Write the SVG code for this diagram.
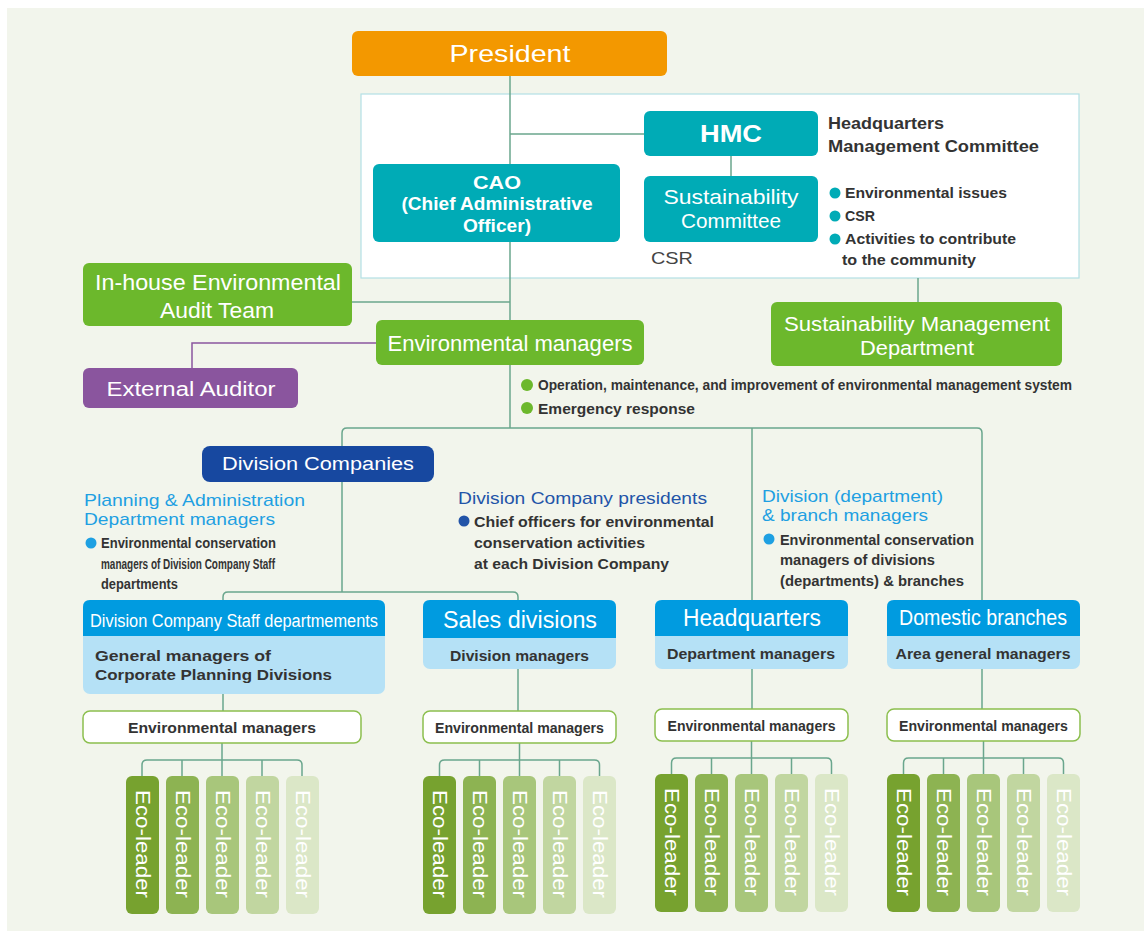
<svg xmlns="http://www.w3.org/2000/svg" width="1144" height="931" viewBox="0 0 1144 931">
<style>
text{font-family:"Liberation Sans Narrow","Liberation Sans",Arial,sans-serif}
.ln{stroke:#6aa68d;stroke-width:1.5;fill:none}
.pl{stroke:#8a559e;stroke-width:1.5;fill:none}
.wt{fill:#fff;text-anchor:middle}
.dk{fill:#333;font-weight:bold}
.dn{fill:#444}
.lb{fill:#1ea0e2}
.nb{fill:#2254a8}
.teal{fill:#00abb6}
.green{fill:#6cb82c}
.hdr{fill:#009be0}
.body{fill:#b5e1f6}
.env{fill:#fff;stroke:#8cbf4e;stroke-width:1.5}
.eco{fill:#fff;font-size:20px}
.e1{fill:#77a22f}.e2{fill:#8db352}.e3{fill:#a8c67b}.e4{fill:#c1d6a0}.e5{fill:#dbe7c7}
</style>
<rect x="0" y="0" width="1144" height="931" fill="#fff"/>
<rect x="7" y="8" width="1137" height="923" fill="#f2f5ec"/>
<rect x="361" y="94" width="718" height="184" fill="#fff" stroke="#b3e0e5" stroke-width="1.2"/>

<g id="connectors">
<path class="ln" d="M510,76 V428"/>
<path class="ln" d="M510,134 H644"/>
<path class="ln" d="M731,156 V176"/>
<path class="ln" d="M352,302 H510"/>
<path class="pl" d="M376,343 H192 V368"/>
<path class="ln" d="M918,278 V302"/>
<path class="ln" d="M342,592 V433 Q342,428 347,428 H977 Q982,428 982,433 V600"/>
<path class="ln" d="M752,428 V600"/>
<path class="ln" d="M223,600 V597 Q223,592 228,592 H513 Q518,592 518,597 V600"/>
<path class="ln" d="M223,694 V711 M518,669 V711 M752,669 V709 M982,669 V709"/>
<path class="ln" d="M222,743 V776 M142,776 V765 Q142,760 147,760 H297 Q302,760 302,765 V776 M182,760 V776 M262,760 V776"/>
<path class="ln" d="M519.5,743 V776 M439.5,776 V765 Q439.5,760 444.5,760 H594.5 Q599.5,760 599.5,765 V776 M479.5,760 V776 M559.5,760 V776"/>
<path class="ln" d="M751.5,741 V774 M671.5,774 V763 Q671.5,758 676.5,758 H826.5 Q831.5,758 831.5,763 V774 M711.5,758 V774 M791.5,758 V774"/>
<path class="ln" d="M983.5,741 V774 M903.5,774 V763 Q903.5,758 908.5,758 H1058.5 Q1063.5,758 1063.5,763 V774 M943.5,758 V774 M1023.5,758 V774"/>
</g>

<g id="president">
<rect x="352" y="31" width="315" height="45" rx="6" fill="#f39800"/>
<text class="wt" x="510" y="62" font-size="24" textLength="121" lengthAdjust="spacingAndGlyphs">President</text>
</g>

<g id="hmc">
<rect x="644" y="111" width="174" height="45" rx="6" class="teal"/>
<text class="wt" x="731" y="142" font-size="23" font-weight="bold" textLength="62" lengthAdjust="spacingAndGlyphs">HMC</text>
<text class="dk" x="828" y="129" font-size="16" font-weight="normal" textLength="116" lengthAdjust="spacingAndGlyphs">Headquarters</text>
<text class="dk" x="828" y="152" font-size="16" font-weight="normal" textLength="211" lengthAdjust="spacingAndGlyphs">Management Committee</text>
</g>

<g id="sustainability-committee">
<rect x="644" y="176" width="174" height="66" rx="6" class="teal"/>
<text class="wt" x="731" y="204" font-size="21" textLength="135" lengthAdjust="spacingAndGlyphs">Sustainability</text>
<text class="wt" x="731" y="228" font-size="21" textLength="100" lengthAdjust="spacingAndGlyphs">Committee</text>
<text class="dn" x="651" y="264" font-size="17" textLength="42" lengthAdjust="spacingAndGlyphs">CSR</text>
<circle cx="835" cy="193" r="5.5" class="teal"/>
<circle cx="835" cy="216" r="5.5" class="teal"/>
<circle cx="835" cy="239" r="5.5" class="teal"/>
<text class="dk" x="845" y="198" font-size="15" textLength="162" lengthAdjust="spacingAndGlyphs">Environmental issues</text>
<text class="dk" x="845" y="221" font-size="15" textLength="30" lengthAdjust="spacingAndGlyphs">CSR</text>
<text class="dk" x="845" y="244" font-size="15" textLength="171" lengthAdjust="spacingAndGlyphs">Activities to contribute</text>
<text class="dk" x="842" y="265" font-size="15" textLength="134" lengthAdjust="spacingAndGlyphs">to the community</text>
</g>

<g id="cao">
<rect x="373" y="164" width="247" height="78" rx="6" class="teal"/>
<text class="wt" x="497" y="189" font-size="19" font-weight="bold" textLength="48" lengthAdjust="spacingAndGlyphs">CAO</text>
<text class="wt" x="497" y="210" font-size="18" font-weight="bold" textLength="191" lengthAdjust="spacingAndGlyphs">(Chief Administrative</text>
<text class="wt" x="497" y="232" font-size="18" font-weight="bold" textLength="68" lengthAdjust="spacingAndGlyphs">Officer)</text>
</g>

<g id="audit-team">
<rect x="83" y="263" width="269" height="63" rx="6" class="green"/>
<text class="wt" x="218" y="290" font-size="22" textLength="246" lengthAdjust="spacingAndGlyphs">In-house Environmental</text>
<text class="wt" x="217" y="318" font-size="22" textLength="114" lengthAdjust="spacingAndGlyphs">Audit Team</text>
</g>

<g id="environmental-managers">
<rect x="376" y="320" width="268" height="45" rx="6" class="green"/>
<text class="wt" x="510" y="351" font-size="22" textLength="245" lengthAdjust="spacingAndGlyphs">Environmental managers</text>
<circle cx="527" cy="385" r="6" class="green"/>
<circle cx="527" cy="408" r="6" class="green"/>
<text class="dk" x="538" y="390" font-size="15" textLength="534" lengthAdjust="spacingAndGlyphs">Operation, maintenance, and improvement of environmental management system</text>
<text class="dk" x="538" y="414" font-size="15" textLength="157" lengthAdjust="spacingAndGlyphs">Emergency response</text>
</g>

<g id="external-auditor">
<rect x="83" y="368" width="215" height="40" rx="6" fill="#8a559e"/>
<text class="wt" x="191" y="396" font-size="20" textLength="169" lengthAdjust="spacingAndGlyphs">External Auditor</text>
</g>

<g id="sustainability-management">
<rect x="771" y="302" width="291" height="64" rx="6" class="green"/>
<text class="wt" x="917" y="331" font-size="20" textLength="266" lengthAdjust="spacingAndGlyphs">Sustainability Management</text>
<text class="wt" x="917" y="355" font-size="20" textLength="114" lengthAdjust="spacingAndGlyphs">Department</text>
</g>

<g id="division-companies">
<rect x="202" y="446" width="232" height="36" rx="8" fill="#1748a0"/>
<text class="wt" x="318" y="470" font-size="18" textLength="192" lengthAdjust="spacingAndGlyphs">Division Companies</text>
<text class="lb" x="84" y="506" font-size="17" textLength="221" lengthAdjust="spacingAndGlyphs">Planning &amp; Administration</text>
<text class="lb" x="84" y="525" font-size="17" textLength="191" lengthAdjust="spacingAndGlyphs">Department managers</text>
<circle cx="91" cy="543" r="5.5" class="lb"/>
<text class="dk" x="101" y="548" font-size="14" textLength="175" lengthAdjust="spacingAndGlyphs">Environmental conservation</text>
<text class="dk" x="101" y="569" font-size="14" textLength="174" lengthAdjust="spacingAndGlyphs">managers of Division Company Staff</text>
<text class="dk" x="101" y="589" font-size="14" textLength="77" lengthAdjust="spacingAndGlyphs">departments</text>
</g>

<g id="division-company-presidents">
<text class="nb" x="458" y="504" font-size="17" textLength="249" lengthAdjust="spacingAndGlyphs">Division Company presidents</text>
<circle cx="464" cy="521" r="5.5" class="nb"/>
<text class="dk" x="474" y="527" font-size="15" textLength="240" lengthAdjust="spacingAndGlyphs">Chief officers for environmental</text>
<text class="dk" x="474" y="548" font-size="15" textLength="171" lengthAdjust="spacingAndGlyphs">conservation activities</text>
<text class="dk" x="474" y="569" font-size="15" textLength="195" lengthAdjust="spacingAndGlyphs">at each Division Company</text>
</g>

<g id="division-branch-managers">
<text class="lb" x="762" y="502" font-size="17" textLength="181" lengthAdjust="spacingAndGlyphs">Division (department)</text>
<text class="lb" x="762" y="521" font-size="17" textLength="166" lengthAdjust="spacingAndGlyphs">&amp; branch managers</text>
<circle cx="769" cy="539" r="5.5" class="lb"/>
<text class="dk" x="780" y="545" font-size="15" textLength="194" lengthAdjust="spacingAndGlyphs">Environmental conservation</text>
<text class="dk" x="780" y="565" font-size="15" textLength="155" lengthAdjust="spacingAndGlyphs">managers of divisions</text>
<text class="dk" x="780" y="586" font-size="15" textLength="184" lengthAdjust="spacingAndGlyphs">(departments) &amp; branches</text>
</g>

<g id="staff-departments">
<rect x="83" y="600" width="302" height="94" rx="7" class="body"/>
<path class="hdr" d="M83,636 V607 Q83,600 90,600 H378 Q385,600 385,607 V636 Z"/>
<text class="wt" x="234" y="627" font-size="18" textLength="288" lengthAdjust="spacingAndGlyphs">Division Company Staff departmements</text>
<text class="dk" x="95" y="661" font-size="15" textLength="176" lengthAdjust="spacingAndGlyphs">General managers of</text>
<text class="dk" x="95" y="680" font-size="15" textLength="237" lengthAdjust="spacingAndGlyphs">Corporate Planning Divisions</text>
</g>

<g id="sales-divisions">
<rect x="423" y="600" width="193" height="69" rx="7" class="body"/>
<path class="hdr" d="M423,638 V607 Q423,600 430,600 H609 Q616,600 616,607 V638 Z"/>
<text class="wt" x="520" y="628" font-size="23" textLength="154" lengthAdjust="spacingAndGlyphs">Sales divisions</text>
<text class="dk" x="519.5" y="661" font-size="15" text-anchor="middle" textLength="139" lengthAdjust="spacingAndGlyphs">Division managers</text>
</g>

<g id="headquarters">
<rect x="655" y="600" width="193" height="69" rx="7" class="body"/>
<path class="hdr" d="M655,636 V607 Q655,600 662,600 H841 Q848,600 848,607 V636 Z"/>
<text class="wt" x="752" y="626" font-size="23" textLength="138" lengthAdjust="spacingAndGlyphs">Headquarters</text>
<text class="dk" x="751" y="659" font-size="15" text-anchor="middle" textLength="168" lengthAdjust="spacingAndGlyphs">Department managers</text>
</g>

<g id="domestic-branches">
<rect x="887" y="600" width="193" height="69" rx="7" class="body"/>
<path class="hdr" d="M887,636 V607 Q887,600 894,600 H1073 Q1080,600 1080,607 V636 Z"/>
<text class="wt" x="983" y="625" font-size="22" textLength="168" lengthAdjust="spacingAndGlyphs">Domestic branches</text>
<text class="dk" x="983" y="659" font-size="15" text-anchor="middle" textLength="175" lengthAdjust="spacingAndGlyphs">Area general managers</text>
</g>

<g id="env-managers-staff">
<rect x="83" y="711" width="278" height="32" rx="7" class="env"/>
<text class="dk" x="222" y="733" font-size="15" text-anchor="middle" textLength="188" lengthAdjust="spacingAndGlyphs">Environmental managers</text>
</g>
<g id="env-managers-sales">
<rect x="423" y="711" width="193" height="32" rx="7" class="env"/>
<text class="dk" x="519.5" y="733" font-size="15" text-anchor="middle" textLength="169" lengthAdjust="spacingAndGlyphs">Environmental managers</text>
</g>
<g id="env-managers-hq">
<rect x="655" y="709" width="193" height="32" rx="7" class="env"/>
<text class="dk" x="751.5" y="731" font-size="15" text-anchor="middle" textLength="168" lengthAdjust="spacingAndGlyphs">Environmental managers</text>
</g>
<g id="env-managers-domestic">
<rect x="887" y="709" width="193" height="32" rx="7" class="env"/>
<text class="dk" x="983.5" y="731" font-size="15" text-anchor="middle" textLength="169" lengthAdjust="spacingAndGlyphs">Environmental managers</text>
</g>

<g id="eco-leaders-staff">
<rect x="126" y="776" width="33" height="138" rx="6" class="e1"/>
<rect x="166" y="776" width="33" height="138" rx="6" class="e2"/>
<rect x="206" y="776" width="33" height="138" rx="6" class="e3"/>
<rect x="246" y="776" width="33" height="138" rx="6" class="e4"/>
<rect x="286" y="776" width="33" height="138" rx="6" class="e5"/>
<text class="eco" transform="translate(142.5,790) rotate(90)" y="7" textLength="108" lengthAdjust="spacingAndGlyphs">Eco-leader</text>
<text class="eco" transform="translate(182.5,790) rotate(90)" y="7" textLength="108" lengthAdjust="spacingAndGlyphs">Eco-leader</text>
<text class="eco" transform="translate(222.5,790) rotate(90)" y="7" textLength="108" lengthAdjust="spacingAndGlyphs">Eco-leader</text>
<text class="eco" transform="translate(262.5,790) rotate(90)" y="7" textLength="108" lengthAdjust="spacingAndGlyphs">Eco-leader</text>
<text class="eco" transform="translate(302.5,790) rotate(90)" y="7" textLength="108" lengthAdjust="spacingAndGlyphs">Eco-leader</text>
</g>

<g id="eco-leaders-sales">
<rect x="423" y="776" width="33" height="138" rx="6" class="e1"/>
<rect x="463" y="776" width="33" height="138" rx="6" class="e2"/>
<rect x="503" y="776" width="33" height="138" rx="6" class="e3"/>
<rect x="543" y="776" width="33" height="138" rx="6" class="e4"/>
<rect x="583" y="776" width="33" height="138" rx="6" class="e5"/>
<text class="eco" transform="translate(439.5,790) rotate(90)" y="7" textLength="108" lengthAdjust="spacingAndGlyphs">Eco-leader</text>
<text class="eco" transform="translate(479.5,790) rotate(90)" y="7" textLength="108" lengthAdjust="spacingAndGlyphs">Eco-leader</text>
<text class="eco" transform="translate(519.5,790) rotate(90)" y="7" textLength="108" lengthAdjust="spacingAndGlyphs">Eco-leader</text>
<text class="eco" transform="translate(559.5,790) rotate(90)" y="7" textLength="108" lengthAdjust="spacingAndGlyphs">Eco-leader</text>
<text class="eco" transform="translate(599.5,790) rotate(90)" y="7" textLength="108" lengthAdjust="spacingAndGlyphs">Eco-leader</text>
</g>

<g id="eco-leaders-hq">
<rect x="655" y="774" width="33" height="138" rx="6" class="e1"/>
<rect x="695" y="774" width="33" height="138" rx="6" class="e2"/>
<rect x="735" y="774" width="33" height="138" rx="6" class="e3"/>
<rect x="775" y="774" width="33" height="138" rx="6" class="e4"/>
<rect x="815" y="774" width="33" height="138" rx="6" class="e5"/>
<text class="eco" transform="translate(671.5,788) rotate(90)" y="7" textLength="108" lengthAdjust="spacingAndGlyphs">Eco-leader</text>
<text class="eco" transform="translate(711.5,788) rotate(90)" y="7" textLength="108" lengthAdjust="spacingAndGlyphs">Eco-leader</text>
<text class="eco" transform="translate(751.5,788) rotate(90)" y="7" textLength="108" lengthAdjust="spacingAndGlyphs">Eco-leader</text>
<text class="eco" transform="translate(791.5,788) rotate(90)" y="7" textLength="108" lengthAdjust="spacingAndGlyphs">Eco-leader</text>
<text class="eco" transform="translate(831.5,788) rotate(90)" y="7" textLength="108" lengthAdjust="spacingAndGlyphs">Eco-leader</text>
</g>

<g id="eco-leaders-domestic">
<rect x="887" y="774" width="33" height="138" rx="6" class="e1"/>
<rect x="927" y="774" width="33" height="138" rx="6" class="e2"/>
<rect x="967" y="774" width="33" height="138" rx="6" class="e3"/>
<rect x="1007" y="774" width="33" height="138" rx="6" class="e4"/>
<rect x="1047" y="774" width="33" height="138" rx="6" class="e5"/>
<text class="eco" transform="translate(903.5,788) rotate(90)" y="7" textLength="108" lengthAdjust="spacingAndGlyphs">Eco-leader</text>
<text class="eco" transform="translate(943.5,788) rotate(90)" y="7" textLength="108" lengthAdjust="spacingAndGlyphs">Eco-leader</text>
<text class="eco" transform="translate(983.5,788) rotate(90)" y="7" textLength="108" lengthAdjust="spacingAndGlyphs">Eco-leader</text>
<text class="eco" transform="translate(1023.5,788) rotate(90)" y="7" textLength="108" lengthAdjust="spacingAndGlyphs">Eco-leader</text>
<text class="eco" transform="translate(1063.5,788) rotate(90)" y="7" textLength="108" lengthAdjust="spacingAndGlyphs">Eco-leader</text>
</g>
</svg>
